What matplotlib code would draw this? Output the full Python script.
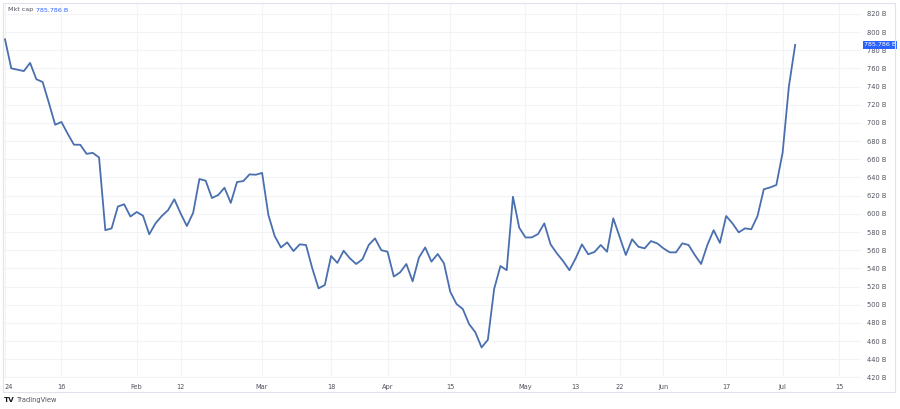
import numpy as np
import matplotlib.pyplot as plt
from matplotlib.patches import Rectangle

# daily market cap (billions), one value per trading day, 2 Jan 2024 .. 3 Jul 2024
mkt_cap = [792, 760, 758.5, 757, 766, 748, 745, 722, 698, 701,
           688, 676, 676, 666, 667, 662, 582, 584, 608, 610.5,
           597, 602, 598, 577.5, 589.5, 597.6, 604, 616, 600.5, 586.6,
           601, 638.3, 636.4, 617.4, 620.7, 628.7, 612, 635, 636, 643.4,
           643, 645, 598.7, 575.6, 563, 568.6, 559, 566.4, 565.7, 540,
           518, 521.7, 553.6, 546, 559.4, 551, 544.8, 550, 565.7, 573,
           560, 558.3, 531, 535.6, 544.8, 525.7, 551.7, 563, 547.4, 555.8,
           545.5, 514.3, 500.8, 495.3, 478.8, 469.7, 453, 461.5, 517.3, 542.6,
           538, 618.8, 584.7, 574, 574, 577.8, 589.5, 566.4, 556.5, 548,
           538, 551, 566.4, 555.5, 558, 565.7, 558.3, 595, 574.8, 554.7,
           572, 563.8, 562, 570, 567.5, 562, 557.6, 557.6, 567.5, 565.7,
           554.7, 544.8, 565.7, 582, 568, 597.6, 589.5, 579.6, 584, 583,
           597.6, 627, 629, 631.7, 667.3, 740, 785.786]

# time axis: bar index of each label (weekdays only)
tick_idx = [0, 9, 21, 28, 41, 52, 61, 71, 83, 91, 98, 105, 115, 124, 133]
tick_lbl = ['24', '16', 'Feb', '12', 'Mar', '18', 'Apr', '15', 'May', '13',
            '22', 'Jun', '17', 'Jul', '15']
price_ticks = np.arange(420, 821, 20)

line_col = '#4a6fae'
label_col = '#2962ff'
grid_col = '#f2f3f6'
text_col = '#50535e'

W, H = 900, 409
fig = plt.figure(figsize=(9, 4.09), dpi=100)
fig.patch.set_facecolor('white')

# plot area in pixels: x 4..861, y 3..378
ax = fig.add_axes([4 / W, (H - 378) / H, (861 - 4) / W, (378 - 3) / H])
x = np.arange(len(mkt_cap))
ax.plot(x, mkt_cap, color=line_col, lw=1.3, solid_joinstyle='round')

ax.set_xlim(-0.16, 136.5)
ax.set_ylim(419.4, 831.9)

ax.set_xticks(tick_idx)
ax.set_xticklabels(tick_lbl)
ax.set_yticks(price_ticks)
ax.set_yticklabels([f'{v} B' for v in price_ticks])
ax.yaxis.tick_right()
ax.tick_params(axis='both', length=0, labelsize=4.8, labelcolor=text_col)
ax.tick_params(axis='x', pad=4)
ax.tick_params(axis='y', pad=4)
ax.get_xticklabels()[0].set_horizontalalignment('left')

ax.grid(True, color=grid_col, lw=0.8)
ax.set_axisbelow(True)
for s in ax.spines.values():
    s.set_visible(False)

# last value label on the price scale
last = mkt_cap[-1]
ax.annotate(f'{last:.3f} B', xy=(1.0, last), xycoords=('axes fraction', 'data'),
            xytext=(2, 0), textcoords='offset points', ha='left', va='center',
            fontsize=4.6, color='white', zorder=5,
            bbox=dict(boxstyle='square,pad=0.2', fc=label_col, ec='none'))

# legend at top left
fig.text(8 / W, 1 - 10 / H, 'Mkt cap', fontsize=4.6, color=text_col, va='center')
fig.text(36 / W, 1 - 10 / H, f'{last:.3f} B', fontsize=4.6, color=label_col, va='center')

# outer frame
fig.patches.append(Rectangle((3 / W, 1 - 392 / H), 892 / W, 389 / H,
                             transform=fig.transFigure, fill=False,
                             ec='#e0e3eb', lw=0.8))

# footer logo
fig.text(4 / W, 1 - 400 / H, 'TV', fontsize=5.2, fontweight='bold', color='#131722', va='center')
fig.text(17 / W, 1 - 400 / H, 'TradingView', fontsize=4.8, color=text_col, va='center')

fig.savefig('out.png', dpi=100)
